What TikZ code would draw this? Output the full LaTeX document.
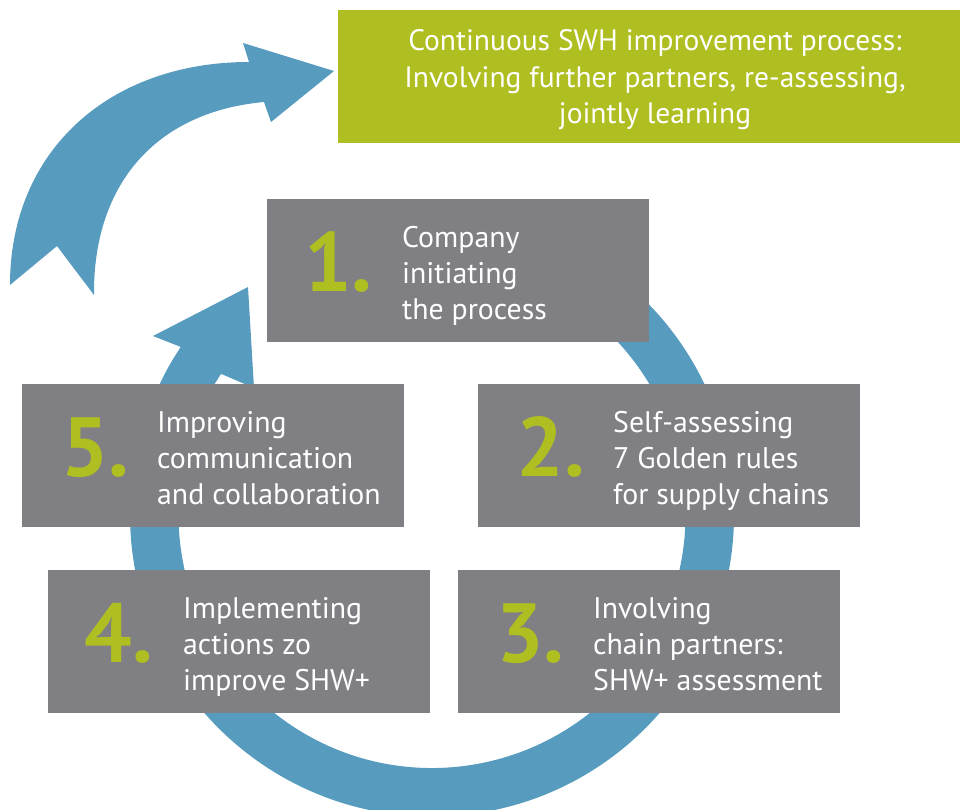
\documentclass[tikz,border=0pt]{standalone}
\usepackage{fontspec}
\setmainfont{PT Sans}
\usetikzlibrary{calc}
\definecolor{ringblue}{RGB}{87,156,191}
\definecolor{boxgray}{RGB}{128,127,132}
\definecolor{limegreen}{RGB}{175,190,33}
\begin{document}
\begin{tikzpicture}[x=1pt,y=-1pt,
  stepbox/.style={fill=boxgray, draw=none, minimum width=382pt, minimum height=143pt, inner sep=0pt, anchor=north west},
  goalbox/.style={fill=limegreen, draw=none, minimum width=622pt, minimum height=133pt, inner sep=0pt, anchor=north west},
  numtxt/.style={text=limegreen, font=\fontsize{84}{84}\selectfont\bfseries, inner sep=0pt, anchor=base},
  bodytxt/.style={text=white, font=\fontsize{29.8}{36.3}\selectfont, inner sep=0pt, anchor=base west},
  goaltxt/.style={text=white, font=\fontsize{29.5}{36.3}\selectfont, inner sep=0pt, anchor=base},
  bigarrow/.style={fill=ringblue, draw=none}
]
\useasboundingbox (0,0) rectangle (960,809);

% circular process arrow
\coordinate (C) at (432,514.5);
\coordinate (ringtip) at (248,287);
\coordinate (ringbarbL) at (153,336);
\coordinate (ringbarbR) at (254,388);
\fill[bigarrow] ($(C)+(-95:302)$) arc[start angle=-95,end angle=213.7,radius=302]
  -- (ringbarbL) -- (ringtip) -- (ringbarbR)
  -- ($(C)+(213.7:253.5)$) arc[start angle=213.7,end angle=-95,radius=253.5] -- cycle;

% upper curved arrow
\coordinate (taila) at (10,285);
\coordinate (tailn) at (57,246);
\coordinate (tailb) at (94,295);
\coordinate (headtip) at (334,71);
\fill[bigarrow] (taila) .. controls (10,150) and (110,62) .. (249,62) -- (243,43) -- (headtip)
  -- (271,122) -- (264,102) .. controls (155,112) and (93,185) .. (tailb) -- (tailn) -- cycle;

% goal box
\node[goalbox] (goal) at (338,10) {};
\node[goaltxt] (goaltext) at (655,50.7) {\begin{tabular}[t]{@{}c@{}}Continuous SWH improvement process:\\Involving further partners, re-assessing,\\jointly learning\end{tabular}};

% step boxes
\node[stepbox] (box1) at (267,199) {};
\node[stepbox] (box2) at (478,384) {};
\node[stepbox] (box3) at (458,570) {};
\node[stepbox] (box4) at (48,570) {};
\node[stepbox] (box5) at (22,384) {};

\node[numtxt] (n1) at ($(box1.north west)+(71.5,92.5)$) {1.};
\node[numtxt] (n2) at ($(box2.north west)+(73,92.5)$) {2.};
\node[numtxt] (n3) at ($(box3.north west)+(72.5,92.5)$) {3.};
\node[numtxt] (n4) at ($(box4.north west)+(71,92.5)$) {4.};
\node[numtxt] (n5) at ($(box5.north west)+(73.4,92.5)$) {5.};

\node[bodytxt] (t1) at ($(box1.north west)+(135,48)$) {\begin{tabular}[t]{@{}l@{}}Company\\initiating\\the process\end{tabular}};
\node[bodytxt] (t2) at ($(box2.north west)+(135,48)$) {\begin{tabular}[t]{@{}l@{}}Self-assessing\\7 Golden rules\\for supply chains\end{tabular}};
\node[bodytxt] (t3) at ($(box3.north west)+(135,48)$) {\begin{tabular}[t]{@{}l@{}}Involving\\chain partners:\\SHW+ assessment\end{tabular}};
\node[bodytxt] (t4) at ($(box4.north west)+(135,48)$) {\begin{tabular}[t]{@{}l@{}}Implementing\\actions zo\\improve SHW+\end{tabular}};
\node[bodytxt] (t5) at ($(box5.north west)+(135,48)$) {\begin{tabular}[t]{@{}l@{}}Improving\\communication\\and collaboration\end{tabular}};
\end{tikzpicture}
\end{document}
